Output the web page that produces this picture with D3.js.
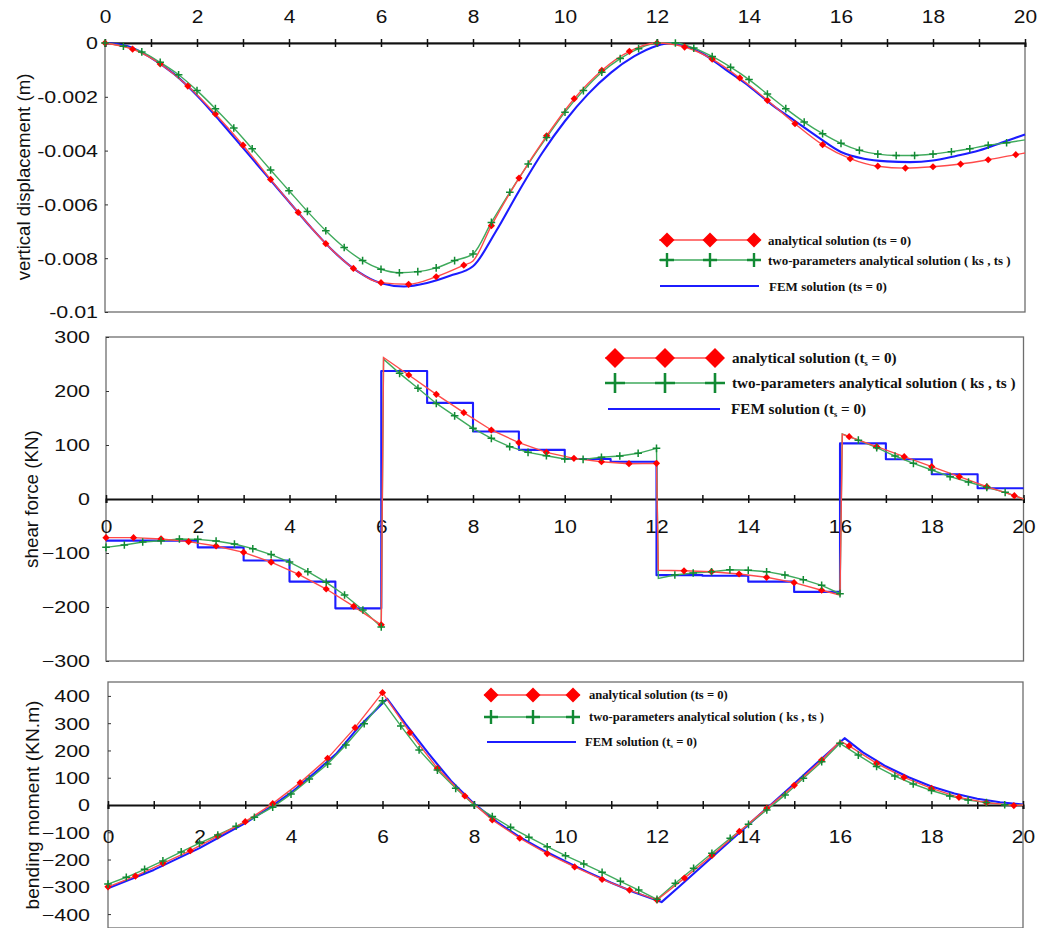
<!DOCTYPE html>
<html><head><meta charset="utf-8">
<script src="https://cdn.jsdelivr.net/npm/d3@7/dist/d3.min.js"></script>
<style>body{margin:0;background:#fff}</style>
</head><body>
<svg id="c" width="1038" height="928"></svg>
<script>
// ---------------- data ----------------
const xTickValues = d3.range(0, 21, 1);
const xLabelValues = [0,2,4,6,8,10,12,14,16,18,20];

const dispTicks = [0,-0.002,-0.004,-0.006,-0.008,-0.01];
const dispTickLabels = ["0","-0.002","-0.004","-0.006","-0.008","-0.01"];
const shearTicks = [300,200,100,0,-100,-200,-300];
const momentTicks = [400,300,200,100,0,-100,-200,-300,-400];

const seriesNames = [
  "analytical solution (ts = 0)",
  "two-parameters analytical solution ( ks , ts )",
  "FEM solution (ts = 0)"
];

// vertical displacement (m)
const dispAnalytical = [[0,0],[0.6,-0.00023],[1.2,-0.00078],[1.8,-0.0016],[2.4,-0.00264],[3.0,-0.0038],[3.6,-0.00507],[4.2,-0.0063],[4.8,-0.00746],[5.4,-0.00838],[6.0,-0.00891],[6.6,-0.00897],[7.2,-0.00869],[7.8,-0.00826],[8.0,-0.0081],[8.4,-0.00679],[9.0,-0.00502],[9.6,-0.00345],[10.2,-0.00207],[10.8,-0.00102],[11.4,-0.00031],[12.0,0],[12.6,-0.00015],[13.2,-0.0006],[13.8,-0.0013],[14.4,-0.00213],[15.0,-0.003],[15.6,-0.00378],[16.2,-0.0043],[16.8,-0.00458],[17.4,-0.00465],[18.0,-0.0046],[18.6,-0.0045],[19.2,-0.00434],[19.8,-0.00415],[20,-0.00409]];
const dispTwoParam = [[0,0],[0.4,-0.00012],[0.8,-0.00033],[1.2,-0.00072],[1.6,-0.00118],[2.0,-0.00177],[2.4,-0.00244],[2.8,-0.00316],[3.2,-0.00393],[3.6,-0.00472],[4.0,-0.00549],[4.4,-0.00626],[4.8,-0.00698],[5.2,-0.0076],[5.6,-0.00809],[6.0,-0.00841],[6.4,-0.00854],[6.8,-0.0085],[7.2,-0.00836],[7.6,-0.00809],[8.0,-0.00784],[8.4,-0.00667],[8.8,-0.00555],[9.2,-0.0045],[9.6,-0.00351],[10.0,-0.00257],[10.4,-0.00177],[10.8,-0.00109],[11.2,-0.00058],[11.6,-0.00021],[12.0,0],[12.4,0],[12.8,-0.00019],[13.2,-0.0005],[13.6,-0.0009],[14.0,-0.00136],[14.4,-0.0019],[14.8,-0.00244],[15.2,-0.00294],[15.6,-0.00337],[16.0,-0.00373],[16.4,-0.00399],[16.8,-0.00413],[17.2,-0.00418],[17.6,-0.00418],[18.0,-0.00413],[18.4,-0.00404],[18.8,-0.00393],[19.2,-0.0038],[19.6,-0.00371],[20,-0.0036]];
const dispFEM = [[0,0],[0.5,-0.00012],[1,-0.00055],[1.5,-0.00115],[2,-0.00195],[2.5,-0.0029],[3,-0.0039],[3.5,-0.0049],[4,-0.0059],[4.5,-0.0069],[5,-0.0078],[5.5,-0.0085],[6,-0.00893],[6.5,-0.00905],[7,-0.00892],[7.5,-0.00865],[8,-0.0083],[8.5,-0.007],[9,-0.0055],[9.5,-0.0041],[10,-0.0029],[10.5,-0.0019],[11,-0.0011],[11.5,-0.0005],[12,-0.0001],[12.3,0],[12.6,-0.0001],[13,-0.0004],[13.5,-0.001],[14,-0.0016],[14.5,-0.0023],[15,-0.0029],[15.5,-0.0035],[16,-0.00405],[16.5,-0.0043],[17,-0.0044],[17.5,-0.00443],[18,-0.00437],[18.5,-0.0042],[19,-0.004],[19.5,-0.0037],[20,-0.0034]];

// shear force (KN)
const shearAnalytical = [[0,-71.6],[0.6,-71.6],[1.2,-74],[1.8,-79],[2.4,-87],[3.0,-98.8],[3.6,-117],[4.2,-139.5],[4.8,-166.7],[5.4,-198.8],[6.0,-233],[6.05,262],[6.6,229.6],[7.2,193.8],[7.8,159.9],[8.4,127.8],[9.0,104.3],[9.6,86.4],[10.2,75.3],[10.8,69],[11.4,65.4],[12.0,66],[12.04,-132],[12.6,-133],[13.2,-134.6],[13.8,-138.9],[14.4,-145],[15.0,-154.9],[15.6,-169],[16.0,-177.8],[16.05,120],[16.2,115.4],[16.8,96.9],[17.4,78.4],[18.0,59.9],[18.6,41.4],[19.2,22.8],[19.8,6.2],[20,0]];
const shearTwoParam = [[0,-89.5],[0.4,-85.2],[0.8,-79.6],[1.2,-77.2],[1.6,-74.1],[2.0,-74.7],[2.4,-77.8],[2.8,-83.3],[3.2,-92],[3.6,-103],[4.0,-116.7],[4.4,-134.6],[4.8,-154.3],[5.2,-177.8],[5.6,-205.6],[6.0,-237],[6.05,259],[6.4,232.7],[6.8,205],[7.2,177],[7.6,154],[8.0,130.9],[8.4,112.3],[8.8,96.9],[9.2,86.4],[9.6,80.2],[10.0,74],[10.4,73.4],[10.8,77.2],[11.2,79.6],[11.6,84.6],[12.0,93.8],[12.04,-146.9],[12.4,-140.7],[12.8,-137],[13.2,-134.6],[13.6,-130.9],[14.0,-132],[14.4,-134.6],[14.8,-140.7],[15.2,-149.4],[15.6,-159.9],[16.0,-175.3],[16.05,120.4],[16.4,109],[16.8,95],[17.2,79.6],[17.6,66],[18.0,53.7],[18.4,41.4],[18.8,31.5],[19.2,21.6],[19.6,12.3],[20,0]];
const shearFEMx = [0,1,2,3,4,5,6,7,8,9,10,11,12,13,14,15,16,17,18,19,20];
const shearFEMv = [-77,-77,-89.5,-114,-153,-202.5,237,178,125,91,74,69,-141,-142,-153,-172,103,73.5,45.7,19.8,19.8];

// bending moment (KN.m)
const momentAnalytical = [[0,-300],[0.6,-260.6],[1.2,-214],[1.8,-167.6],[2.4,-113.8],[3.0,-61.2],[3.6,5],[4.2,82],[4.8,171],[5.4,283.7],[6.0,412],[6.6,265.5],[7.2,134.5],[7.8,33],[8.4,-55],[9.0,-122],[9.6,-178],[10.2,-227],[10.8,-273],[11.4,-312],[12.0,-348.6],[12.6,-268],[13.2,-185],[13.8,-97],[14.4,-12],[15.0,72],[15.6,165],[16.0,234],[16.2,216.5],[16.8,152.9],[17.4,101.5],[18.0,61.2],[18.6,28.1],[19.2,8.6],[19.8,-2],[20,0]];
const momentTwoParam = [[0,-290],[0.4,-265],[0.8,-236],[1.2,-205],[1.6,-172],[2.0,-140],[2.4,-110],[2.8,-78],[3.2,-45],[3.6,-8],[4.0,40],[4.4,95],[4.8,150],[5.2,220],[5.6,298],[6.0,382],[6.4,290],[6.8,202],[7.2,128],[7.6,61],[8.0,0],[8.4,-42],[8.8,-82],[9.2,-118],[9.6,-153],[10.0,-186],[10.4,-216],[10.8,-247],[11.2,-280],[11.6,-312],[12.0,-346],[12.4,-287],[12.8,-232],[13.2,-177],[13.6,-122],[14.0,-71],[14.4,-18],[14.8,37],[15.2,98],[15.6,159],[16.0,226],[16.4,183],[16.8,141],[17.2,106],[17.6,77],[18.0,53],[18.4,33],[18.8,18],[19.2,9],[19.6,1],[20,0]];
const momentFEM = [[0,-305],[1,-238],[2,-158],[3,-66],[3.6,-2],[4,45],[4.5,115],[5,190],[5.5,290],[6.1,390],[6.5,298],[7,190],[7.5,88],[8,5],[8.5,-62],[9,-118],[9.5,-165],[10,-207],[10.5,-247],[11,-285],[11.5,-320],[12.1,-356],[12.5,-297],[13,-222],[13.5,-147],[14,-72],[14.5,3],[15,78],[15.5,155],[16.1,245],[16.5,193],[17,142],[17.5,102],[18,68],[18.5,42],[19,23],[19.5,10],[20,2]];

// ---------------- drawing ----------------
const svg = d3.select("#c");
svg.append("rect").attr("width",1038).attr("height",928).attr("fill","#fff");

const RED = "#ff0000", RED_LINE = "#ff4a4a";
const GREEN = "#128a34", GREEN_LINE = "#3faa5c";
const BLUE = "#1c1cff";
const FRAME = "#6e6e6e";
const SANS = "'Liberation Sans', Arial, Helvetica, sans-serif";
const SERIF = "'Liberation Serif', 'Times New Roman', serif";

function diamondPath(r){ return `M0,${-r}L${r},0L0,${r}L${-r},0Z`; }
function plusPath(r){ return `M${-r},0H${r}M0,${-r}V${r}`; }
function isMarker(x, step){ const q = x/step; return Math.abs(q-Math.round(q)) < 1e-6 && x < 20 - 1e-9; }

function drawPanel(cfg){
  const g = svg.append("g");
  const x = d3.scaleLinear().domain([0,20]).range([cfg.x0, cfg.x1]);
  const y = d3.scaleLinear().domain(cfg.yDomain).range([cfg.yBottom, cfg.yTop]);
  g.append("rect").attr("x",cfg.x0).attr("y",cfg.yTop).attr("width",cfg.x1-cfg.x0).attr("height",cfg.yBottom-cfg.yTop)
    .attr("fill","none").attr("stroke",FRAME).attr("stroke-width",1.3);
  const ya = g.append("g").attr("transform",`translate(${cfg.x0},0)`)
    .call(d3.axisLeft(y).tickValues(cfg.yTicks).tickSize(-3).tickPadding(0).tickFormat(cfg.yFormat));
  ya.select(".domain").remove();
  ya.selectAll("line").attr("stroke","#333").attr("stroke-width",1);
  ya.selectAll("text").attr("font-family",SANS).attr("font-size",16.5).attr("fill","#111")
    .attr("x",-cfg.yLabelOff/1.3).attr("dy","0.36em").attr("transform","scale(1.3,1)");
  g.append("text").attr("transform",`translate(${cfg.titleX},${cfg.titleY}) rotate(-90)`)
    .attr("text-anchor","middle").attr("dy","0.35em").attr("font-family",SANS).attr("font-size",cfg.titleSize)
    .attr("fill","#111").text(cfg.title);
  const axisY = y(0);
  const xa = g.append("g").attr("transform",`translate(0,${axisY})`)
    .call(d3.axisBottom(x).tickValues(xTickValues).tickSize(4).tickFormat(""));
  xa.select(".domain").attr("stroke","#111").attr("stroke-width",2);
  xa.selectAll(".tick line").attr("y1",-4).attr("y2",4).attr("stroke","#111").attr("stroke-width",1.5);
  const xl = g.append("g").attr("transform",`translate(0,${axisY})`)
    .call(d3.axisBottom(x).tickValues(xLabelValues).tickSize(0).tickFormat(d3.format("d")));
  xl.select(".domain").remove();
  xl.selectAll("text").attr("font-family",SANS).attr("font-size",19).attr("fill","#111")
    .attr("y",cfg.xLabelDy).attr("dy","0.35em").attr("transform","scale(1.1,1)");

  const line = (curve) => d3.line().x(d=>x(d[0])).y(d=>y(d[1])).curve(curve);
  g.append("path").datum(cfg.fem).attr("d",line(cfg.femCurve)).attr("fill","none")
    .attr("stroke",BLUE).attr("stroke-width",2.1).attr("stroke-linejoin","round");
  g.append("path").datum(cfg.two).attr("d",line(cfg.curve)).attr("fill","none")
    .attr("stroke",GREEN_LINE).attr("stroke-width",1.4);
  g.append("path").datum(cfg.ana).attr("d",line(cfg.curve)).attr("fill","none")
    .attr("stroke",RED_LINE).attr("stroke-width",1.4);
  g.append("g").selectAll("path").data(cfg.ana.filter(d=>isMarker(d[0],0.6))).join("path")
    .attr("transform",d=>`translate(${x(d[0])},${y(d[1])})`).attr("d",diamondPath(3.6)).attr("fill",RED);
  g.append("g").selectAll("path").data(cfg.two.filter(d=>isMarker(d[0],0.4))).join("path")
    .attr("transform",d=>`translate(${x(d[0])},${y(d[1])})`).attr("d",plusPath(3.8))
    .attr("stroke",GREEN).attr("stroke-width",1.5).attr("fill","none");
  return {g,x,y};
}

function drawLegend(cfg){
  const g = svg.append("g").attr("font-family",SERIF).attr("font-weight","bold").attr("fill","#111").attr("font-size",cfg.fs);
  const ys = cfg.rows;
  g.append("line").attr("x1",cfg.lx0).attr("x2",cfg.lx1).attr("y1",ys[0]).attr("y2",ys[0]).attr("stroke",RED_LINE).attr("stroke-width",1.4);
  cfg.mx.forEach(mx=>g.append("path").attr("transform",`translate(${mx},${ys[0]})`).attr("d",diamondPath(cfg.dr)).attr("fill",RED));
  g.append("line").attr("x1",cfg.lx0).attr("x2",cfg.lx1).attr("y1",ys[1]).attr("y2",ys[1]).attr("stroke",GREEN_LINE).attr("stroke-width",1.4);
  cfg.mx.forEach(mx=>g.append("path").attr("transform",`translate(${mx},${ys[1]})`).attr("d",plusPath(cfg.pr)).attr("stroke",GREEN).attr("stroke-width",cfg.pw).attr("fill","none"));
  g.append("line").attr("x1",cfg.bx0).attr("x2",cfg.bx1).attr("y1",ys[2]).attr("y2",ys[2]).attr("stroke",BLUE).attr("stroke-width",1.8);
  function addText(xp, yp, name, sub){
    const t = g.append("text").attr("x",xp).attr("y",yp).attr("dy","0.35em");
    if(!sub){ t.text(name); return; }
    const i = name.indexOf("ts = 0");
    t.append("tspan").text(name.slice(0,i+1));
    t.append("tspan").attr("font-size",cfg.fs*0.55).attr("dy","0.3em").text("s");
    t.append("tspan").attr("dy","-0.17em").text(name.slice(i+2));
  }
  addText(cfg.tx, ys[0], seriesNames[0], cfg.sub[0]);
  addText(cfg.tx, ys[1], seriesNames[1], false);
  addText(cfg.ftx, ys[2], seriesNames[2], cfg.sub[2]);
}

// ---- top panel: displacement
drawPanel({x0:105,x1:1025,yTop:43,yBottom:312,yDomain:[-0.01,0],yTicks:dispTicks,
  yFormat:(d,i)=>dispTickLabels[i], yLabelOff:7, title:"vertical displacement (m)", titleX:23, titleY:177, titleSize:18.6,
  xLabelDy:-27, ana:dispAnalytical, two:dispTwoParam, fem:dispFEM,
  curve:d3.curveMonotoneX, femCurve:d3.curveMonotoneX});
drawLegend({fs:13, rows:[240,260,286], lx0:659, lx1:760, mx:[667,710,754], dr:7.5, pr:7, pw:2.4,
  bx0:660, bx1:759, tx:768, ftx:769, sub:[false,false,false]});

// ---- middle panel: shear
const femShear = shearFEMx.map((xv,i)=>[xv, shearFEMv[i]]);
drawPanel({x0:106,x1:1023.5,yTop:337,yBottom:661,yDomain:[-300,300],yTicks:shearTicks,
  yFormat:d3.format("d"), yLabelOff:16, title:"shear force (KN)", titleX:31, titleY:499, titleSize:18.8,
  xLabelDy:27, ana:shearAnalytical, two:shearTwoParam, fem:femShear,
  curve:d3.curveLinear, femCurve:d3.curveStepAfter});
drawLegend({fs:15.2, rows:[358,383,409], lx0:605, lx1:724, mx:[615,665,715], dr:10, pr:10, pw:2.6,
  bx0:608, bx1:720, tx:732, ftx:731, sub:[true,false,true]});

// ---- bottom panel: moment
drawPanel({x0:108,x1:1023,yTop:682,yBottom:928,yDomain:[-451,451],yTicks:momentTicks,
  yFormat:d3.format("d"), yLabelOff:18, title:"bending moment (KN.m)", titleX:32, titleY:805, titleSize:19.2,
  xLabelDy:31, ana:momentAnalytical, two:momentTwoParam, fem:momentFEM,
  curve:d3.curveLinear, femCurve:d3.curveLinear});
drawLegend({fs:12.6, rows:[695,717,742], lx0:484, lx1:580, mx:[491,533,573], dr:7.5, pr:7, pw:2.4,
  bx0:487, bx1:576, tx:589, ftx:585, sub:[false,false,true]});
</script>
</body></html>
